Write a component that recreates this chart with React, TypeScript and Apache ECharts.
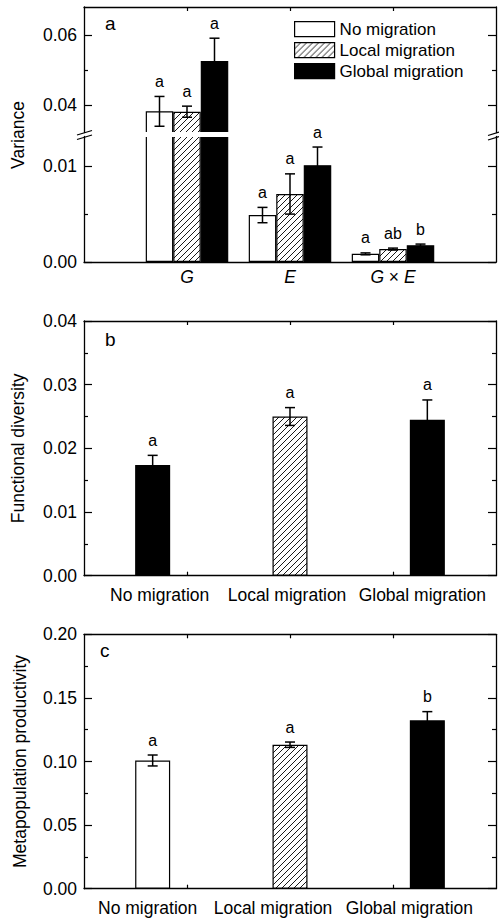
import React, { useEffect, useRef } from 'react';
import * as echarts from 'echarts';

// ---------------- data ----------------
// Panel a: variance components
const termCategories = ['G', 'E', 'G×E'];
const noMigrationVar = [0.0381, 0.0049, 0.00085];
const noMigrationVarErr = [0.0043, 0.0008, 0.0001];
const noMigrationVarLetters = ['a', 'a', 'a'];
const localMigrationVar = [0.038, 0.0071, 0.00135];
const localMigrationVarErr = [0.0016, 0.0021, 0.0001];
const localMigrationVarLetters = ['a', 'a', 'ab'];
const globalMigrationVar = [0.0526, 0.0101, 0.00175];
const globalMigrationVarErr = [0.0066, 0.0019, 0.00012];
const globalMigrationVarLetters = ['a', 'a', 'b'];
const varianceUpperTicks = [0.04, 0.06];
const varianceUpperMinorTicks = [0.05];
const varianceLowerTicks = [0, 0.01];
const varianceLowerMinorTicks = [0.005];

// Panel b: functional diversity
const treatments = ['No migration', 'Local migration', 'Global migration'];
const functionalDiversity = [0.0174, 0.025, 0.0245];
const functionalDiversityErr = [0.0015, 0.0014, 0.0031];
const functionalDiversityLetters = ['a', 'a', 'a'];
const fdTicks = [0, 0.01, 0.02, 0.03, 0.04];
const fdMinorTicks = [0.005, 0.015, 0.025, 0.035];

// Panel c: metapopulation productivity
const productivity = [0.1008, 0.1132, 0.1324];
const productivityErr = [0.0043, 0.0021, 0.0068];
const productivityLetters = ['a', 'a', 'b'];
const prodTicks = [0, 0.05, 0.1, 0.15, 0.2];
const prodMinorTicks = [0.025, 0.075, 0.125, 0.175];

// x positions of the decorative top/bottom ticks (on a 0..4 scale)
const frameXTicks = [1, 2, 3];

// ---------------- style ----------------
const FONT = '"Liberation Sans", Arial, Helvetica, sans-serif';
const BLACK = '#000';
const axisLineStyle = { color: BLACK, width: 1.3 };
const tickLineStyle = { color: BLACK, width: 1.2 };
const LABEL_SIZE = 17.5;

function makeHatch() {
  const c = document.createElement('canvas');
  c.width = 6;
  c.height = 6;
  const ctx = c.getContext('2d')!;
  ctx.fillStyle = '#fff';
  ctx.fillRect(0, 0, 6, 6);
  ctx.strokeStyle = '#000';
  ctx.lineWidth = 0.9;
  ctx.beginPath();
  ctx.moveTo(-1, 7);
  ctx.lineTo(7, -1);
  ctx.moveTo(-1, 1);
  ctx.lineTo(1, -1);
  ctx.moveTo(5, 7);
  ctx.lineTo(7, 5);
  ctx.stroke();
  return c;
}

type ErrItem = { x: number; v: number; e: number; letter: string; dx: number };

function buildOption() {
  const hatchFill = { image: makeHatch(), repeat: 'repeat' };

  const grids = [
    { left: 84, right: 3, top: 7, height: 125.5 }, // a upper (after break)
    { left: 84, right: 3, top: 136.5, height: 125.5 }, // a lower
    { left: 84, right: 3, top: 321, height: 254.7 }, // b
    { left: 84, right: 3, top: 634.3, height: 254.4 }, // c
  ].map((g) => ({ ...g, containLabel: false, outerBoundsMode: 'none', show: false }));

  const xAxes: any[] = [];
  const yAxes: any[] = [];
  const addX = (o: any) => (xAxes.push(o), xAxes.length - 1);
  const addY = (o: any) => (yAxes.push(o), yAxes.length - 1);

  const frameX = (gi: number, position: 'top' | 'bottom', showLine: boolean, showTicks: boolean) =>
    addX({
      type: 'value',
      gridIndex: gi,
      min: 0,
      max: 4,
      position,
      axisLine: { show: showLine, onZero: false, lineStyle: axisLineStyle },
      axisTick: { show: showTicks, inside: true, length: 4, customValues: frameXTicks, lineStyle: tickLineStyle },
      axisLabel: { show: false },
      splitLine: { show: false },
    });

  const addYAxes = (
    gi: number,
    min: number,
    max: number,
    major: number[],
    minor: number[],
    name?: string,
    nameGap?: number
  ) => {
    const base = { type: 'value', gridIndex: gi, min, max, splitLine: { show: false } };
    const left = addY({
      ...base,
      position: 'left',
      axisLine: { show: true, onZero: false, lineStyle: axisLineStyle },
      axisTick: { show: true, inside: true, length: 8, customValues: major, lineStyle: tickLineStyle },
      axisLabel: {
        show: true,
        customValues: major,
        formatter: (v: number) => v.toFixed(2),
        margin: 7,
        fontSize: LABEL_SIZE,
        color: BLACK,
        fontFamily: FONT,
      },
      name,
      nameLocation: 'middle',
      nameGap,
      nameMoveOverlap: false,
      nameTextStyle: { fontSize: LABEL_SIZE, color: BLACK, fontFamily: FONT },
    });
    addY({
      ...base,
      position: 'left',
      axisLine: { show: false, onZero: false },
      axisTick: { show: true, inside: true, length: 4, customValues: minor, lineStyle: tickLineStyle },
      axisLabel: { show: false },
    });
    addY({
      ...base,
      position: 'right',
      axisLine: { show: true, onZero: false, lineStyle: axisLineStyle },
      axisTick: { show: true, inside: true, length: 8, customValues: major, lineStyle: tickLineStyle },
      axisLabel: { show: false },
    });
    addY({
      ...base,
      position: 'right',
      axisLine: { show: false, onZero: false },
      axisTick: { show: true, inside: true, length: 4, customValues: minor, lineStyle: tickLineStyle },
      axisLabel: { show: false },
    });
    return left;
  };

  const series: any[] = [];

  const errorSeries = (xAxisIndex: number, yAxisIndex: number, items: ErrItem[]) => ({
    type: 'custom',
    xAxisIndex,
    yAxisIndex,
    clip: false,
    z: 5,
    silent: true,
    data: items.map((it) => [it.x, it.v, it.e]),
    encode: { x: 0, y: 1 },
    renderItem: (params: any, api: any) => {
      const it = items[params.dataIndex];
      const top = api.coord([it.x, it.v + it.e]);
      const bot = api.coord([it.x, it.v - it.e]);
      const cx = top[0] + it.dx;
      const half = 5;
      const ls = { stroke: BLACK, lineWidth: 1.5 };
      return {
        type: 'group',
        children: [
          { type: 'line', shape: { x1: cx, y1: top[1], x2: cx, y2: bot[1] }, style: ls },
          { type: 'line', shape: { x1: cx - half, y1: top[1], x2: cx + half, y2: top[1] }, style: ls },
          { type: 'line', shape: { x1: cx - half, y1: bot[1], x2: cx + half, y2: bot[1] }, style: ls },
          {
            type: 'text',
            x: cx,
            y: top[1] - 15,
            style: {
              text: it.letter,
              fill: BLACK,
              fontSize: 16,
              fontFamily: FONT,
              align: 'center',
              verticalAlign: 'middle',
            },
          },
        ],
      };
    },
  });

  // ---------- Panel a ----------
  const termAxisData = ['', ...termCategories, ' '];
  const groups = [
    { name: 'No migration', values: noMigrationVar, err: noMigrationVarErr, letters: noMigrationVarLetters, fill: '#fff' },
    { name: 'Local migration', values: localMigrationVar, err: localMigrationVarErr, letters: localMigrationVarLetters, fill: hatchFill },
    { name: 'Global migration', values: globalMigrationVar, err: globalMigrationVarErr, letters: globalMigrationVarLetters, fill: BLACK },
  ];
  const A_BAR = 27.5;
  const aParts = [
    { gi: 0, min: 0.032, max: 0.0682, major: varianceUpperTicks, minor: varianceUpperMinorTicks, top: true, bottom: false },
    { gi: 1, min: 0, max: 0.0131, major: varianceLowerTicks, minor: varianceLowerMinorTicks, top: false, bottom: true },
  ];
  aParts.forEach((p) => {
    const cx = addX({
      type: 'category',
      gridIndex: p.gi,
      data: termAxisData,
      boundaryGap: false,
      position: 'bottom',
      show: p.bottom,
      axisLine: { show: p.bottom, onZero: false, lineStyle: axisLineStyle },
      axisTick: { show: false },
      axisLabel: {
        show: p.bottom,
        interval: 0,
        margin: 6,
        fontSize: LABEL_SIZE,
        color: BLACK,
        fontFamily: FONT,
        formatter: (v: string) =>
          v.trim() === '' ? '' : v.split('×').map((s) => `{i|${s}}`).join(' × '),
        rich: { i: { fontStyle: 'italic', fontSize: LABEL_SIZE, color: BLACK, fontFamily: FONT } },
      },
      splitLine: { show: false },
    });
    if (p.top) frameX(p.gi, 'top', true, true);
    if (p.bottom) frameX(p.gi, 'bottom', false, true);
    const y = addYAxes(p.gi, p.min, p.max, p.major, p.minor);
    groups.forEach((g) => {
      series.push({
        type: 'bar',
        name: g.name,
        xAxisIndex: cx,
        yAxisIndex: y,
        barWidth: A_BAR,
        barGap: '0%',
        clip: true,
        silent: true,
        itemStyle: { color: g.fill, borderColor: BLACK, borderWidth: 1.2 },
        data: termCategories.map((_, i) => [i + 1, g.values[i]]),
      });
    });
    // error bars + letters only for bars whose top lies in this segment of the broken axis
    const items: ErrItem[] = [];
    groups.forEach((g, s) =>
      termCategories.forEach((_, i) => {
        if (g.values[i] >= p.min && g.values[i] <= p.max) {
          items.push({ x: i + 1, v: g.values[i], e: g.err[i], letter: g.letters[i], dx: (s - 1) * A_BAR });
        }
      })
    );
    series.push(errorSeries(cx, y, items));
  });

  // ---------- Panels b and c ----------
  const single = [
    {
      gi: 2,
      name: 'Functional diversity',
      nameGap: 57,
      max: 0.04,
      major: fdTicks,
      minor: fdMinorTicks,
      values: functionalDiversity,
      err: functionalDiversityErr,
      letters: functionalDiversityLetters,
      fills: [BLACK, hatchFill, BLACK],
      labelShift: [7, -3, -5],
    },
    {
      gi: 3,
      name: 'Metapopulation productivity',
      nameGap: 55,
      max: 0.2,
      major: prodTicks,
      minor: prodMinorTicks,
      values: productivity,
      err: productivityErr,
      letters: productivityLetters,
      fills: ['#fff', hatchFill, BLACK],
      labelShift: [-5, -17, -18],
    },
  ];
  single.forEach((p) => {
    const cx = addX({
      type: 'category',
      gridIndex: p.gi,
      data: treatments.map((t, i) => {
        const d = p.labelShift[i];
        return { value: t, textStyle: { padding: [0, d < 0 ? -2 * d : 0, 0, d > 0 ? 2 * d : 0] } };
      }),
      boundaryGap: true,
      position: 'bottom',
      axisLine: { show: true, onZero: false, lineStyle: axisLineStyle },
      axisTick: { show: false },
      axisLabel: { interval: 0, margin: 10, fontSize: LABEL_SIZE, color: BLACK, fontFamily: FONT },
      splitLine: { show: false },
    });
    frameX(p.gi, 'top', true, true);
    frameX(p.gi, 'bottom', false, true);
    const y = addYAxes(p.gi, 0, p.max, p.major, p.minor, p.name, p.nameGap);
    series.push({
      type: 'bar',
      name: p.name,
      xAxisIndex: cx,
      yAxisIndex: y,
      barWidth: 35,
      silent: true,
      data: p.values.map((v, i) => ({
        value: v,
        itemStyle: { color: p.fills[i], borderColor: BLACK, borderWidth: 1.2 },
      })),
    });
    series.push(
      errorSeries(
        cx,
        y,
        p.values.map((v, i) => ({ x: i, v, e: p.err[i], letter: p.letters[i], dx: 0 }))
      )
    );
  });

  const lineStyleG = { stroke: BLACK, lineWidth: 1.3 };
  const graphic: any[] = [
    // white gap across the broken G bars
    { type: 'rect', z: 100, shape: { x: 144, y: 132, width: 87, height: 5 }, style: { fill: '#fff' } },
    // axis-break marks
    { type: 'line', z: 101, shape: { x1: 77, y1: 135, x2: 92, y2: 130.5 }, style: lineStyleG },
    { type: 'line', z: 101, shape: { x1: 77, y1: 139.5, x2: 92, y2: 135 }, style: lineStyleG },
    { type: 'line', z: 101, shape: { x1: 488, y1: 135.5, x2: 499, y2: 132 }, style: lineStyleG },
    { type: 'line', z: 101, shape: { x1: 488, y1: 140, x2: 499, y2: 136.5 }, style: lineStyleG },
    // y title of panel a (spans the broken axis)
    {
      type: 'text',
      x: 18,
      y: 135,
      rotation: Math.PI / 2,
      style: { text: 'Variance', fontSize: LABEL_SIZE, fontFamily: FONT, fill: BLACK, align: 'center', verticalAlign: 'middle' },
    },
    // panel letters
    { type: 'text', x: 105, y: 23, style: { text: 'a', fontSize: 19, fontFamily: FONT, fill: BLACK, align: 'left', verticalAlign: 'middle' } },
    { type: 'text', x: 105, y: 339, style: { text: 'b', fontSize: 19, fontFamily: FONT, fill: BLACK, align: 'left', verticalAlign: 'middle' } },
    { type: 'text', x: 100, y: 650, style: { text: 'c', fontSize: 19, fontFamily: FONT, fill: BLACK, align: 'left', verticalAlign: 'middle' } },
  ];

  return {
    animation: false,
    backgroundColor: '#fff',
    textStyle: { fontFamily: FONT, color: BLACK },
    grid: grids,
    xAxis: xAxes,
    yAxis: yAxes,
    legend: {
      data: ['No migration', 'Local migration', 'Global migration'],
      orient: 'vertical',
      left: 294,
      top: 20.7,
      padding: 0,
      itemGap: 4,
      itemWidth: 40,
      itemHeight: 15,
      icon: 'rect',
      selectedMode: false,
      textStyle: { fontSize: 17, color: BLACK, fontFamily: FONT },
      itemStyle: { borderColor: BLACK, borderWidth: 1.2 },
    },
    series,
    graphic,
  };
}

export default function App() {
  const ref = useRef<HTMLDivElement>(null);
  useEffect(() => {
    const chart = echarts.init(ref.current!, null, { renderer: 'svg' });
    chart.setOption(buildOption() as any);
    return () => chart.dispose();
  }, []);
  return <div ref={ref} style={{ position: 'absolute', left: 0, top: 0, width: 499, height: 920 }} />;
}
